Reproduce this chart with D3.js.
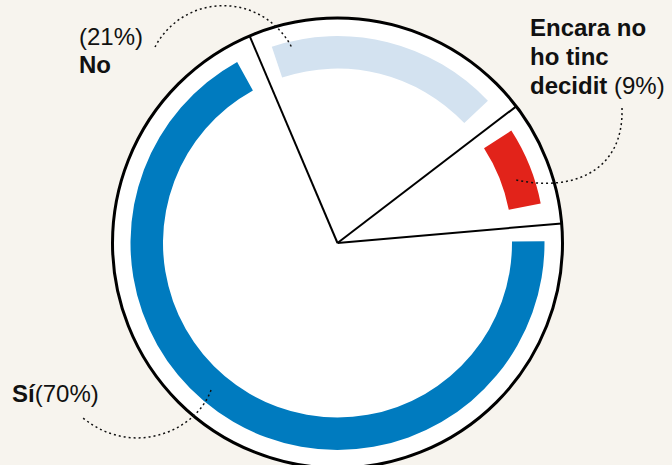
<!DOCTYPE html>
<html>
<head>
<meta charset="utf-8">
<script src="https://cdn.jsdelivr.net/npm/d3@7"></script>
<style>
  html, body { margin: 0; padding: 0; background: #f7f4ee; }
  svg { display: block; }
  text { font-family: "Liberation Sans", Arial, sans-serif; font-size: 24px; fill: #111; }
</style>
</head>
<body>
<svg id="chart"></svg>
<script>
// answers and shares (%)
var categories = ["No", "Encara no ho tinc decidit", "Sí"];
var values = [21, 9, 70];
var colors = ["#d3e2f0", "#e2231a", "#007bbf"];

var width = 672, height = 465;
var cx = 337.5, cy = 243, r = 225;
var deg = Math.PI / 180;

var svg = d3.select("#chart")
  .attr("width", width)
  .attr("height", height);

var g = svg.append("g")
  .attr("transform", "translate(" + cx + "," + cy + ")");

var pie = d3.pie()
  .sort(null)
  .startAngle(-23 * deg)
  .endAngle(337 * deg);

var slices = pie(values);

// white disc with black rim
g.append("circle")
  .attr("r", r)
  .attr("fill", "#fff")
  .attr("stroke", "#000")
  .attr("stroke-width", 3);

// coloured band inside each slice
var band = d3.arc()
  .innerRadius(174.5)
  .outerRadius(207)
  .startAngle(function (d) { return d.startAngle + 4.5 * deg; })
  .endAngle(function (d) { return d.endAngle - 6 * deg; });

g.selectAll("path.band")
  .data(slices)
  .enter().append("path")
  .attr("class", "band")
  .attr("fill", function (d, i) { return colors[i]; })
  .attr("d", band);

// slice borders
g.selectAll("line.sep")
  .data(slices)
  .enter().append("line")
  .attr("class", "sep")
  .attr("x1", 0).attr("y1", 0)
  .attr("x2", function (d) { return r * Math.sin(d.startAngle); })
  .attr("y2", function (d) { return -r * Math.cos(d.startAngle); })
  .attr("stroke", "#000")
  .attr("stroke-width", 2);

// dotted leader lines
var leaders = [
  "M155,47 A77,77 0 0,1 292,48",
  "M622,108 C624,172 572,192 516,180",
  "M211,390 C196,432 132,458 83,418"
];
svg.selectAll("path.leader")
  .data(leaders)
  .enter().append("path")
  .attr("class", "leader")
  .attr("d", function (d) { return d; })
  .attr("fill", "none")
  .attr("stroke", "#111")
  .attr("stroke-width", 1.5)
  .attr("stroke-dasharray", "2,3");

// labels
var t1 = svg.append("text").attr("x", 79).attr("y", 45);
t1.append("tspan").text("(" + values[0] + "%)");
t1.append("tspan").attr("x", 79).attr("dy", 28).attr("font-weight", "bold").text(categories[0]);

var t2 = svg.append("text").attr("x", 530).attr("y", 36).attr("font-weight", "bold");
t2.append("tspan").text("Encara no");
t2.append("tspan").attr("x", 530).attr("dy", 29).text("ho tinc");
t2.append("tspan").attr("x", 530).attr("dy", 29).text("decidit ");
t2.append("tspan").attr("font-weight", "normal").text("(" + values[1] + "%)");

var t3 = svg.append("text").attr("x", 12).attr("y", 402);
t3.append("tspan").attr("font-weight", "bold").text(categories[2]);
t3.append("tspan").text("(" + values[2] + "%)");
</script>
</body>
</html>
